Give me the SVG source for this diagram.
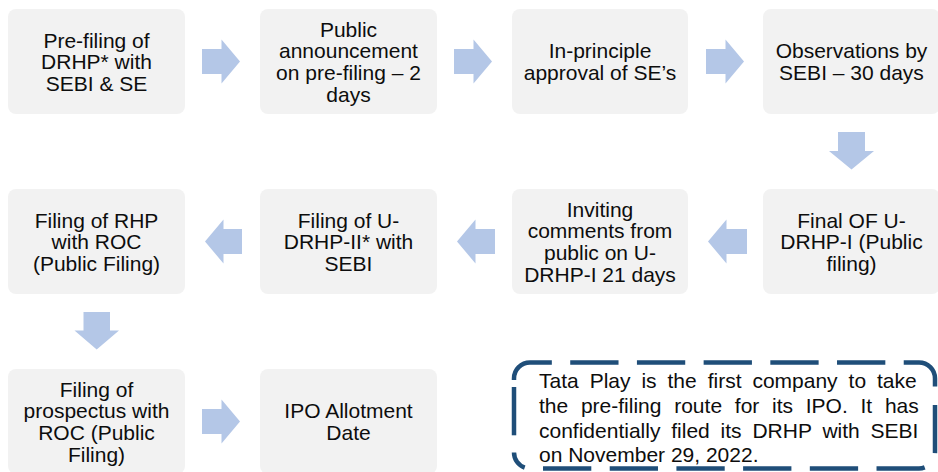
<svg xmlns="http://www.w3.org/2000/svg" width="938" height="472" viewBox="0 0 938 472">
  <style>
    .box { fill: #F2F2F2; }
    .lbl { font-family: "Liberation Sans", Arial, sans-serif; font-size: 21px; fill: #0D0D0D; text-anchor: middle; }
    .arrow { fill: #B4C7E7; }
    .note { fill: none; stroke: #1F4E79; stroke-width: 4.5; stroke-dasharray: 48.3 18.4; }
    .notetxt { font-family: "Liberation Sans", Arial, sans-serif; font-size: 21px; fill: #0D0D0D; }
  </style>
  <rect width="938" height="472" fill="#FFFFFF"/>

  <!-- process steps, row 1 (left to right) -->
  <g id="step-prefiling">
    <rect class="box" x="8" y="9" width="177" height="105" rx="8"/>
    <text class="lbl"><tspan x="96.5" y="47.6">Pre-filing of</tspan><tspan x="96.5" y="69.3">DRHP* with</tspan><tspan x="96.5" y="91">SEBI &amp; SE</tspan></text>
  </g>
  <g id="step-announcement">
    <rect class="box" x="260" y="9" width="177" height="105" rx="8"/>
    <text class="lbl"><tspan x="348.5" y="36.75">Public</tspan><tspan x="348.5" y="58.45">announcement</tspan><tspan x="348.5" y="80.15">on pre-filing – 2</tspan><tspan x="348.5" y="101.85">days</tspan></text>
  </g>
  <g id="step-inprinciple">
    <rect class="box" x="512" y="9" width="176" height="105" rx="8"/>
    <text class="lbl"><tspan x="600" y="58.45">In-principle</tspan><tspan x="600" y="80.15">approval of SE’s</tspan></text>
  </g>
  <g id="step-observations">
    <rect class="box" x="763" y="9" width="177" height="105" rx="8"/>
    <text class="lbl"><tspan x="851.5" y="58.45">Observations by</tspan><tspan x="851.5" y="80.15">SEBI – 30 days</tspan></text>
  </g>

  <!-- row 2 (right to left) -->
  <g id="step-final-udrhp1">
    <rect class="box" x="763" y="189" width="177" height="105" rx="8"/>
    <text class="lbl"><tspan x="851.5" y="227.6">Final OF U-</tspan><tspan x="851.5" y="249.3">DRHP-I (Public</tspan><tspan x="851.5" y="271">filing)</tspan></text>
  </g>
  <g id="step-comments">
    <rect class="box" x="512" y="189" width="176" height="105" rx="8"/>
    <text class="lbl"><tspan x="600" y="216.75">Inviting</tspan><tspan x="600" y="238.45">comments from</tspan><tspan x="600" y="260.15">public on U-</tspan><tspan x="600" y="281.85">DRHP-I 21 days</tspan></text>
  </g>
  <g id="step-udrhp2">
    <rect class="box" x="260" y="189" width="177" height="105" rx="8"/>
    <text class="lbl"><tspan x="348.5" y="227.6">Filing of U-</tspan><tspan x="348.5" y="249.3">DRHP-II* with</tspan><tspan x="348.5" y="271">SEBI</tspan></text>
  </g>
  <g id="step-rhp">
    <rect class="box" x="8" y="189" width="177" height="105" rx="8"/>
    <text class="lbl"><tspan x="96.5" y="227.6">Filing of RHP</tspan><tspan x="96.5" y="249.3">with ROC</tspan><tspan x="96.5" y="271">(Public Filing)</tspan></text>
  </g>

  <!-- row 3 -->
  <g id="step-prospectus">
    <rect class="box" x="8" y="369" width="177" height="105" rx="8"/>
    <text class="lbl"><tspan x="96.5" y="396.75">Filing of</tspan><tspan x="96.5" y="418.45">prospectus with</tspan><tspan x="96.5" y="440.15">ROC (Public</tspan><tspan x="96.5" y="461.85">Filing)</tspan></text>
  </g>
  <g id="step-allotment">
    <rect class="box" x="260" y="369" width="177" height="105" rx="8"/>
    <text class="lbl"><tspan x="348.5" y="418.45">IPO Allotment</tspan><tspan x="348.5" y="440.15">Date</tspan></text>
  </g>

  <!-- block arrows between steps -->
  <g id="connectors">
    <polygon class="arrow" points="202,49 221.5,49 221.5,39.5 240,61.5 221.5,83.5 221.5,74 202,74"/>
    <polygon class="arrow" points="454,49 473.5,49 473.5,39.5 492,61.5 473.5,83.5 473.5,74 454,74"/>
    <polygon class="arrow" points="706,49 725.5,49 725.5,39.5 744,61.5 725.5,83.5 725.5,74 706,74"/>
    <polygon class="arrow" points="838,132 865,132 865,151 874,151 851.5,169.5 829,151 838,151"/>
    <polygon class="arrow" points="708,241.5 726.5,219.5 726.5,229 747,229 747,254 726.5,254 726.5,263.5"/>
    <polygon class="arrow" points="457,241.5 475.5,219.5 475.5,229 495,229 495,254 475.5,254 475.5,263.5"/>
    <polygon class="arrow" points="205,241.5 223.5,219.5 223.5,229 242,229 242,254 223.5,254 223.5,263.5"/>
    <polygon class="arrow" points="83.5,312 110,312 110,330.5 119,330.5 96.7,349.5 74.5,330.5 83.5,330.5"/>
    <polygon class="arrow" points="202,409 221.5,409 221.5,399.5 240,421.5 221.5,443.5 221.5,434 202,434"/>
  </g>

  <!-- dashed note box -->
  <g id="note">
    <rect x="514" y="362.5" width="421" height="106" rx="16" fill="#FFFFFF"/>
    <path class="note" d="M514 380 V378.5 A16 16 0 0 1 530 362.5 H919 A16 16 0 0 1 935 378.5 V452.5 A16 16 0 0 1 919 468.5 H530 A16 16 0 0 1 514 452.5"/>
    <path class="note" d="M514 387 V452.5"/>
    <text class="notetxt">
      <tspan x="539" y="388" word-spacing="5.1">Tata Play is the first company to take</tspan>
      <tspan x="539" y="412.8" word-spacing="6.9">the pre-filing route for its IPO. It has</tspan>
      <tspan x="539" y="437.6" word-spacing="5">confidentially filed its DRHP with SEBI</tspan>
      <tspan x="539" y="462.4">on November 29, 2022.</tspan>
    </text>
  </g>
</svg>
